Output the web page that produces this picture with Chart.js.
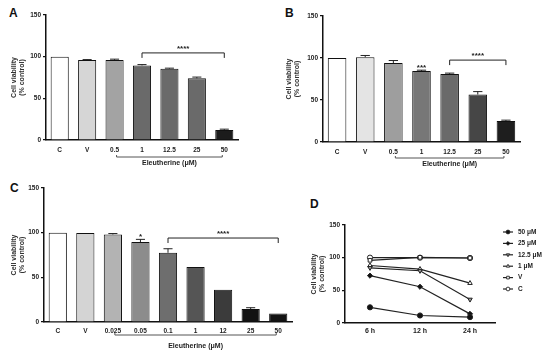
<!DOCTYPE html>
<html>
<head>
<meta charset="utf-8">
<script src="https://cdn.jsdelivr.net/npm/chart.js@4.4.0/dist/chart.umd.min.js"></script>
<style>
  body { margin:0; background:#fff; width:550px; height:353px; position:relative; overflow:hidden;
         font-family:'Liberation Sans', Arial, sans-serif; }
  canvas { position:absolute; }
  .tag { position:absolute; font-weight:bold; font-size:12px; line-height:12px; color:#111; }
</style>
</head>
<body>
<div class="tag" style="left:9px;top:7px">A</div>
<div class="tag" style="left:285px;top:7px">B</div>
<div class="tag" style="left:10px;top:182px">C</div>
<div class="tag" style="left:310px;top:198px">D</div>

<canvas id="chartA" width="275" height="175" style="left:0;top:0"></canvas>
<canvas id="chartB" width="275" height="175" style="left:275px;top:0"></canvas>
<canvas id="chartC" width="300" height="178" style="left:0;top:175px"></canvas>
<canvas id="chartD" width="250" height="178" style="left:300px;top:175px"></canvas>

<script>
// --- panel A: bars ---
const labelsA = ['C', 'V', '0.5', '1', '12.5', '25', '50'];
const meanA = [100, 96, 96, 89.5, 85.5, 74, 12];
const errA = [0, 0.5, 1, 1, 0.7, 1.5, 1];
const colorsA = ['#ffffff', '#d6d6d6', '#a3a3a3', '#6a6a6a', '#6a6a6a', '#6a6a6a', '#1c1c1c'];
const sigA = [{ from: 3, to: 6, y: 104.5, text: '****' }];

// --- panel B: bars ---
const labelsB = ['C', 'V', '0.5', '1', '12.5', '25', '50'];
const meanB = [100, 101, 94, 84.5, 81, 56.5, 25];
const errB = [0, 2, 3, 1, 1, 3.5, 1];
const colorsB = ['#ffffff', '#e4e4e4', '#9e9e9e', '#777777', '#6a6a6a', '#464646', '#1e1e1e'];
const sigB = [{ from: 3, to: 3, y: 90, text: '***' }, { from: 4, to: 6, y: 97.5, text: '****' }];

// --- panel C: bars ---
const labelsC = ['C', 'V', '0.025', '0.05', '0.1', '1', '12', '25', '50'];
const meanC = [100, 99.5, 98, 89.5, 77.5, 61.5, 36, 14.5, 9.5];
const errC = [0, 0, 1, 3, 4.5, 0, 0, 1.5, 0];
const colorsC = ['#ffffff', '#d4d4d4', '#b3b3b3', '#8c8c8c', '#6e6e6e', '#555555', '#3b3b3b', '#121212', '#121212'];
const sigC = [{ from: 3, to: 3, y: 96, text: '*' }, { from: 4, to: 8, y: 94, text: '****' }];

// --- panel D: time course ---
const timesD = ['6 h', '12 h', '24 h'];
const d50 = [24, 11.5, 9];
const d25 = [72.5, 55.5, 14];
const d12 = [84.5, 80, 36];
const d1 = [88, 82.5, 61];
const dV = [96, 100.5, 99.5];
const dC = [100, 100, 99.5];

const yTicks = [0, 50, 100, 150];
const groupName = 'Eleutherine (μM)';
const yTitle = ['Cell viability', '(% control)'];

const tickFont = { family: 'Liberation Sans, Arial', size: 6.5, weight: 'bold' };
const titleFont = { family: 'Liberation Sans, Arial', size: 7, weight: 'bold', lineHeight: 1.15 };

// error bars + significance + "Eleutherine" bracket
const marks = {
  id: 'marks',
  afterDatasetsDraw(chart, args, o) {
    const { ctx, chartArea } = chart;
    const x = chart.scales.x, y = chart.scales.y;
    ctx.save();
    ctx.strokeStyle = '#222';
    ctx.fillStyle = '#222';
    ctx.lineWidth = 1;

    const bars = chart.getDatasetMeta(0).data;
    bars.forEach((bar, i) => {
      const e = o.err[i];
      if (!e) return;
      const top = y.getPixelForValue(o.mean[i] + e);
      const half = bar.width * 0.25;
      ctx.beginPath();
      ctx.moveTo(bar.x, bar.y);
      ctx.lineTo(bar.x, top);
      ctx.moveTo(bar.x - half, top);
      ctx.lineTo(bar.x + half, top);
      ctx.stroke();
    });

    ctx.font = 'bold 8px Liberation Sans, Arial';
    ctx.textAlign = 'center';
    ctx.textBaseline = 'bottom';
    o.sig.forEach(s => {
      const x1 = x.getPixelForValue(s.from), x2 = x.getPixelForValue(s.to);
      const yy = y.getPixelForValue(s.y);
      if (s.from !== s.to) {
        ctx.beginPath();
        ctx.moveTo(x1, yy + 5);
        ctx.lineTo(x1, yy);
        ctx.lineTo(x2, yy);
        ctx.lineTo(x2, yy + 5);
        ctx.stroke();
        ctx.fillText(s.text, (x1 + x2) / 2, yy - 0.5);
      } else {
        ctx.fillText(s.text, x1, yy + 5);
      }
    });

    // group bracket under the axis
    const gx1 = x.getPixelForValue(2) + 2, gx2 = x.getPixelForValue(o.mean.length - 1) - 2;
    const gy = chartArea.bottom + o.gap;
    ctx.strokeStyle = '#555';
    ctx.beginPath();
    ctx.moveTo(gx1, gy - 2);
    ctx.lineTo(gx1, gy);
    ctx.lineTo(gx2, gy);
    ctx.lineTo(gx2, gy - 2);
    ctx.stroke();
    ctx.font = 'bold 7px Liberation Sans, Arial';
    ctx.textBaseline = 'top';
    ctx.fillText(groupName, (gx1 + gx2) / 2, gy + o.tgap);
    ctx.restore();
  }
};

function yScale(width) {
  return {
    min: 0, max: 150,
    afterBuildTicks: s => { s.ticks = yTicks.map(v => ({ value: v })); },
    ticks: { color: '#222', font: tickFont, padding: 2 },
    grid: { drawOnChartArea: false, tickLength: 3, color: '#111', lineWidth: 1.2 },
    border: { color: '#111', width: 1.5 },
    title: { display: true, text: yTitle, font: titleFont, color: '#333', padding: { top: 10, bottom: 0 } },
    afterFit: s => { s.width = width; }
  };
}

function barChart(id, labels, mean, err, colors, sig, lay) {
  return new Chart(document.getElementById(id), {
    type: 'bar',
    data: {
      labels,
      datasets: [{
        data: mean,
        backgroundColor: colors,
        borderColor: '#111',
        borderWidth: 1,
        barPercentage: 0.66,
        categoryPercentage: 1
      }]
    },
    options: {
      responsive: false,
      animation: false,
      layout: { padding: { left: 0, top: lay.top, right: lay.right, bottom: 0 } },
      plugins: {
        legend: { display: false },
        tooltip: { enabled: false },
        marks: { mean, err, sig, gap: lay.gap, tgap: lay.tgap }
      },
      scales: {
        x: {
          grid: { display: false, drawTicks: false },
          border: { color: '#111', width: 1.5 },
          ticks: { color: '#222', font: tickFont, padding: lay.tp, maxRotation: 0, autoSkip: false },
          afterFit: s => { s.height = lay.xh; }
        },
        y: yScale(lay.yw)
      }
    },
    plugins: [marks]
  });
}

barChart('chartA', labelsA, meanA, errA, colorsA, sigA, { top: 15, right: 37, xh: 35, yw: 46, tp: 6, gap: 17, tgap: 3 });
barChart('chartB', labelsB, meanB, errB, colorsB, sigB, { top: 16, right: 30, xh: 33, yw: 48, tp: 6, gap: 16, tgap: 3 });
barChart('chartC', labelsC, meanC, errC, colorsC, sigC, { top: 13, right: 8, xh: 31, yw: 44, tp: 5, gap: 13, tgap: 8 });

// custom legend for D (line + marker)
const legendD = {
  id: 'legendD',
  afterDraw(chart) {
    const { ctx } = chart;
    ctx.save();
    ctx.font = 'bold 6.5px Liberation Sans, Arial';
    ctx.textBaseline = 'middle';
    ctx.textAlign = 'left';
    chart.data.datasets.forEach((ds, i) => {
      const ly = 57 + i * 11.4;
      ctx.strokeStyle = '#222';
      ctx.lineWidth = 1.2;
      ctx.beginPath();
      ctx.moveTo(203, ly);
      ctx.lineTo(213, ly);
      ctx.stroke();
      ctx.fillStyle = ds.pointBackgroundColor;
      ctx.lineWidth = 0.9;
      Chart.helpers.drawPoint(ctx, {
        pointStyle: ds.pointStyle, rotation: ds.pointRotation || 0, radius: 1.9, borderWidth: 0.9
      }, 208, ly);
      ctx.fillStyle = '#222';
      ctx.fillText(ds.label, 218, ly);
    });
    ctx.restore();
  }
};

function lineSet(label, data, style, fill, rot) {
  return {
    label, data,
    borderColor: '#222', borderWidth: 1.2,
    pointStyle: style, pointRotation: rot || 0,
    pointRadius: 2.6, pointBorderWidth: 1,
    pointBorderColor: '#222', pointBackgroundColor: fill
  };
}

new Chart(document.getElementById('chartD'), {
  type: 'line',
  data: {
    labels: timesD,
    datasets: [
      lineSet('50 μM', d50, 'circle', '#111'),
      lineSet('25 μM', d25, 'rectRot', '#111'),
      lineSet('12.5 μM', d12, 'triangle', '#999', 180),
      lineSet('1 μM', d1, 'triangle', '#fff'),
      lineSet('V', dV, 'rect', '#fff'),
      lineSet('C', dC, 'circle', '#fff')
    ]
  },
  options: {
    responsive: false,
    animation: false,
    layout: { padding: { left: 0, top: 50, right: 55, bottom: 0 } },
    plugins: { legend: { display: false }, tooltip: { enabled: false } },
    scales: {
      x: {
        offset: true,
        grid: { display: false, drawTicks: false },
        border: { color: '#111', width: 1.5 },
        ticks: { color: '#222', font: { ...tickFont, size: 7 }, padding: 4 },
        afterFit: s => { s.height = 30; }
      },
      y: yScale(45)
    }
  },
  plugins: [legendD]
});
</script>
</body>
</html>
